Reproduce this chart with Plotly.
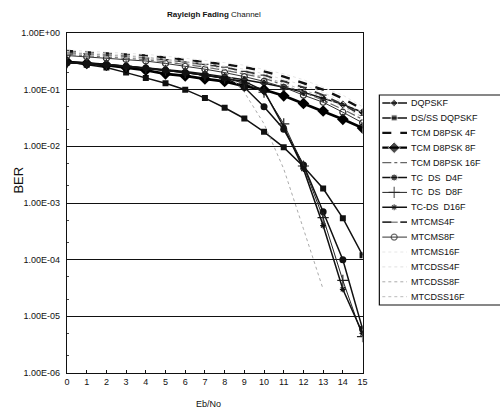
import plotly.graph_objects as go

# ---------------- data ----------------
eb_no = list(range(16))

series_names = [
    "DQPSKF", "DS/SS DQPSKF", "TCM D8PSK 4F", "TCM D8PSK 8F", "TCM D8PSK 16F",
    "TC  DS  D4F", "TC  DS  D8F", "TC-DS  D16F", "MTCMS4F", "MTCMS8F",
    "MTCMS16F", "MTCDSS4F", "MTCDSS8F", "MTCDSS16F",
]

dqpskf = [0.31, 0.30, 0.28, 0.26, 0.245, 0.23, 0.21, 0.19, 0.17, 0.15, 0.13, 0.11, 0.09, 0.07, 0.055, 0.04]
dsss_dqpskf = [0.31, 0.275, 0.245, 0.20, 0.16, 0.13, 0.10, 0.071, 0.048, 0.031, 0.018, 0.0096, 0.0044, 0.0018, 0.00054, 0.00012]
tcm_4f = [0.48, 0.46, 0.44, 0.42, 0.40, 0.37, 0.34, 0.31, 0.28, 0.25, 0.21, 0.17, 0.13, 0.10, 0.07, 0.045]
tcm_8f = [0.31, 0.29, 0.27, 0.245, 0.22, 0.19, 0.175, 0.155, 0.14, 0.115, 0.10, 0.078, 0.057, 0.042, 0.030, 0.021]
tcm_16f = [0.42, 0.40, 0.38, 0.36, 0.34, 0.31, 0.28, 0.25, 0.22, 0.19, 0.16, 0.12, 0.09, 0.065, 0.045, 0.03]
tcds_4f = [0.30, 0.29, 0.275, 0.26, 0.24, 0.22, 0.20, 0.18, 0.16, 0.11, 0.05, 0.02, 0.0047, 0.0007, 0.0001, 0.000006]
tcds_8f = [0.30, 0.29, 0.275, 0.26, 0.24, 0.22, 0.20, 0.18, 0.16, 0.13, 0.09, 0.025, 0.0045, 0.00055, 0.000043, 0.0000044]
tcds_16f = [0.30, 0.29, 0.275, 0.26, 0.24, 0.22, 0.20, 0.18, 0.16, 0.14, 0.095, 0.022, 0.004, 0.0004, 0.00003, 0.000005]
mtcms_4f = [0.45, 0.43, 0.41, 0.39, 0.36, 0.34, 0.31, 0.28, 0.25, 0.21, 0.18, 0.14, 0.11, 0.08, 0.055, 0.035]
mtcms_8f = [0.40, 0.38, 0.36, 0.34, 0.32, 0.29, 0.26, 0.23, 0.20, 0.17, 0.14, 0.11, 0.08, 0.06, 0.04, 0.026]
mtcms_16f = [0.50, 0.48, 0.46, 0.44, 0.42, 0.39, 0.36, 0.33, 0.30, 0.27, 0.23, 0.19, 0.15, 0.11, 0.08, 0.05]
mtcdss_4f = [0.47, 0.45, 0.43, 0.41, 0.38, 0.35, 0.32, 0.29, 0.26, 0.23, 0.19, 0.15, 0.12, 0.09, 0.06, 0.04]
mtcdss_8f = [0.45, 0.43, 0.41, 0.39, 0.37, 0.34, 0.31, 0.28, 0.22, 0.09, 0.025, 0.004, 0.00035, 0.00003, None, None]
mtcdss_16f = [0.43, 0.41, 0.39, 0.37, 0.35, 0.32, 0.29, 0.26, 0.23, 0.20, 0.17, 0.13, 0.10, 0.075, 0.05, 0.033]

series_values = [dqpskf, dsss_dqpskf, tcm_4f, tcm_8f, tcm_16f, tcds_4f, tcds_8f, tcds_16f,
                 mtcms_4f, mtcms_8f, mtcms_16f, mtcdss_4f, mtcdss_8f, mtcdss_16f]

y_tick_vals = [1, 0.1, 0.01, 0.001, 0.0001, 0.00001, 0.000001]
y_tick_text = ["1.00E+00", "1.00E-01", "1.00E-02", "1.00E-03", "1.00E-04", "1.00E-05", "1.00E-06"]

# ---------------- styles ----------------
styles = [
    dict(color="#111", width=1.5, dash="solid", symbol="diamond", size=6),
    dict(color="#111", width=1.5, dash="solid", symbol="square", size=6),
    dict(color="#111", width=2.4, dash="dash", symbol=None, size=0),
    dict(color="#000", width=2.6, dash="solid", symbol="diamond", size=9),
    dict(color="#666", width=1.2, dash="dashdot", symbol=None, size=0),
    dict(color="#111", width=1.5, dash="solid", symbol="circle", size=7),
    dict(color="#222", width=1, dash="solid", symbol="cross-thin", size=8),
    dict(color="#111", width=1.5, dash="solid", symbol="asterisk", size=5),
    dict(color="#333", width=1.8, dash="dash", symbol="line-ew", size=5),
    dict(color="#333", width=1, dash="solid", symbol="circle-open", size=6),
    dict(color="#e6e6e6", width=1, dash="dot", symbol=None, size=0),
    dict(color="#e0e0e0", width=1, dash="dot", symbol=None, size=0),
    dict(color="#aaaaaa", width=1, dash="dot", symbol=None, size=0),
    dict(color="#bbbbbb", width=1, dash="dot", symbol=None, size=0),
]

W, H = 500, 412
ML, MR, MT, MB = 67, 0, 33, 39
PW = W - ML - MR
PH = H - MT - MB
plot_right_px = 366
FONT = "Liberation Sans, Arial, sans-serif"

fig = go.Figure()

def marker_dict(st, sizes):
    m = dict(symbol=st["symbol"] or "circle", size=sizes, color=st["color"])
    if st["symbol"] in ("cross-thin", "asterisk", "line-ew", "circle-open"):
        m["line"] = dict(color=st["color"], width=1.2)
    return m

for name, vals, st in zip(series_names, series_values, styles):
    mode = "lines+markers" if st["symbol"] else "lines"
    fig.add_trace(go.Scatter(
        x=eb_no, y=vals, name=name, mode=mode, showlegend=False,
        line=dict(color=st["color"], width=st["width"], dash=st["dash"]),
        marker=marker_dict(st, st["size"]) if st["symbol"] else None,
        connectgaps=False, xaxis="x", yaxis="y",
    ))

# ---------------- custom legend (on its own axes) ----------------
leg_left, leg_top, leg_bottom = 383, 95, 305
row0, row_step = 103, 14.9
for i, (name, st) in enumerate(zip(series_names, styles)):
    yy = row0 + row_step * i
    mode = "lines+markers" if st["symbol"] else "lines"
    fig.add_trace(go.Scatter(
        x=[386, 398, 411], y=[yy, yy, yy], mode=mode, showlegend=False,
        line=dict(color=st["color"], width=min(st["width"], 2.2), dash=st["dash"]),
        marker=marker_dict(st, [0, st["size"], 0]) if st["symbol"] else None,
        xaxis="x2", yaxis="y2", hoverinfo="skip",
    ))
    fig.add_annotation(x=413, y=yy, xref="x2", yref="y2", text=name, showarrow=False,
                       xanchor="left", yanchor="middle",
                       font=dict(family=FONT, size=9, color="#111"))

fig.add_shape(type="rect", xref="paper", yref="paper",
              x0=(leg_left - ML) / PW, x1=1.05,
              y0=(H - MB - leg_bottom) / PH, y1=(H - MB - leg_top) / PH,
              line=dict(color="#111", width=1.2), fillcolor="rgba(0,0,0,0)")

# ---------------- layout ----------------
fig.update_layout(
    width=W, height=H,
    margin=dict(l=ML, r=MR, t=MT, b=MB),
    paper_bgcolor="white", plot_bgcolor="white",
    font=dict(family=FONT, size=9, color="#111"),
    xaxis=dict(domain=[0, (plot_right_px - ML) / PW], range=[0, 15],
               tickvals=eb_no, ticktext=[str(v) for v in eb_no],
               ticks="inside", ticklen=3, tickcolor="#111",
               showline=True, linecolor="#111", linewidth=1.2, mirror=True,
               showgrid=False, zeroline=False,
               tickfont=dict(size=9, color="#111")),
    yaxis=dict(type="log", range=[-6, 0], tickvals=y_tick_vals, ticktext=y_tick_text,
               ticks="inside", ticklen=3, tickcolor="#111",
               showline=True, linecolor="#111", linewidth=1.2, mirror=True,
               showgrid=True, gridcolor="#111", gridwidth=1.2,
               minor=dict(ticks="inside", ticklen=2, tickcolor="#444", showgrid=False),
               tickfont=dict(size=9, color="#111"), ticklabelstandoff=4),
    xaxis2=dict(domain=[(380 - ML) / PW, 1], range=[380, 500], visible=False, fixedrange=True),
    yaxis2=dict(domain=[(H - MB - 310) / PH, (H - MB - 90) / PH], range=[310, 90],
                visible=False, fixedrange=True),
    showlegend=False,
)

fig.add_annotation(x=(216 - ML) / PW, y=(H - MB - 15) / PH, xref="paper", yref="paper",
                   text="<b>Rayleigh Fading</b> Channel", showarrow=False,
                   yanchor="middle", xanchor="center",
                   font=dict(family=FONT, size=8, color="#111"))
fig.add_annotation(x=(17 - ML) / PW, y=(H - MB - 180) / PH, xref="paper", yref="paper",
                   text="BER", textangle=-90, showarrow=False, xanchor="center", yanchor="middle",
                   font=dict(family=FONT, size=13, color="#111"))
fig.add_annotation(x=(210 - ML) / PW, y=(H - MB - 404) / PH, xref="paper", yref="paper",
                   text="Eb/No", showarrow=False, xanchor="center", yanchor="middle",
                   font=dict(family=FONT, size=9, color="#111"))

fig.write_html("out.html", config={"displayModeBar": False},
               post_script="document.body.style.margin='0';")
